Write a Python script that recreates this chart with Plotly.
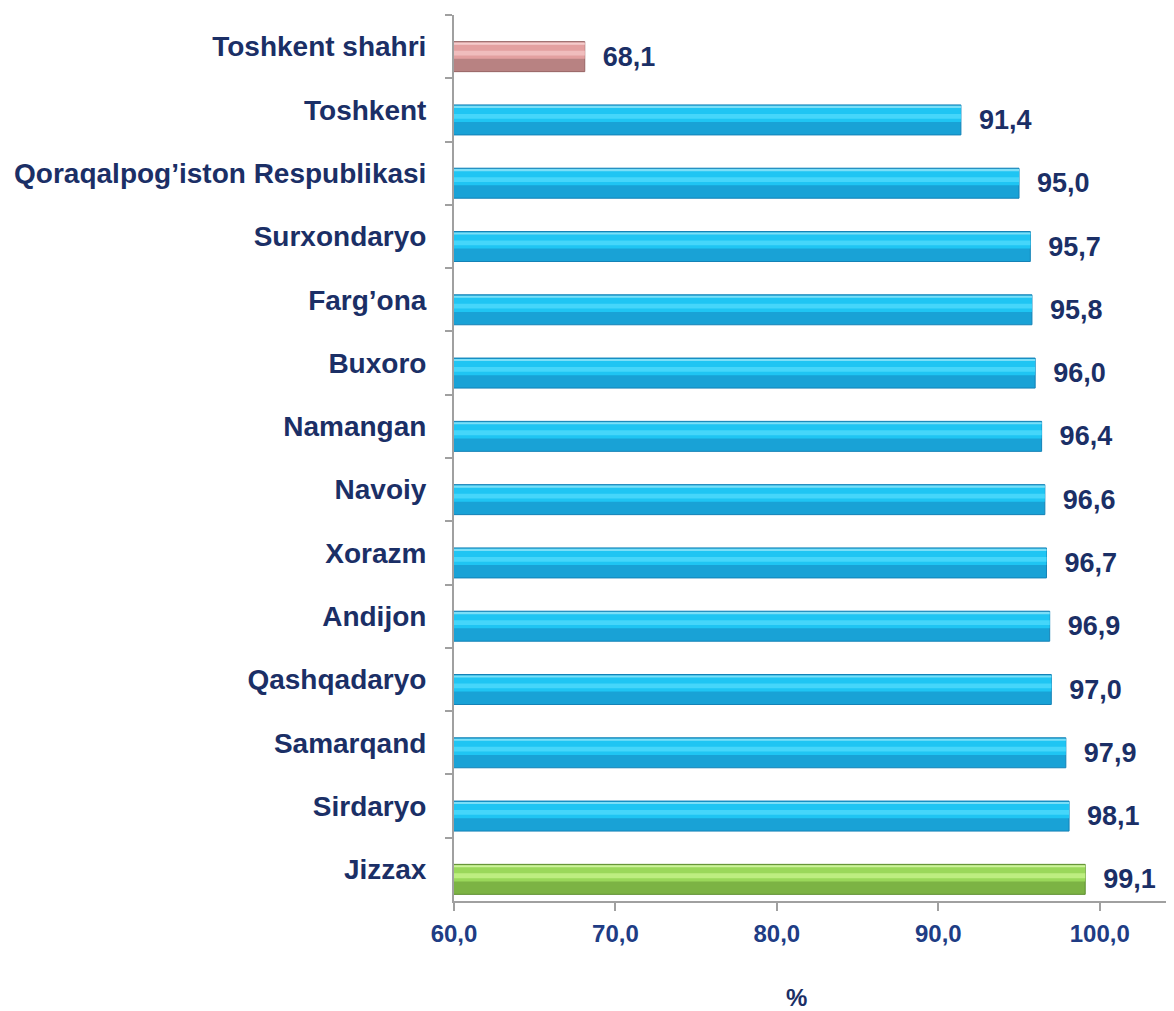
import plotly.graph_objects as go

categories = ["Toshkent shahri", "Toshkent", "Qoraqalpog’iston Respublikasi", "Surxondaryo",
              "Farg’ona", "Buxoro", "Namangan", "Navoiy", "Xorazm", "Andijon",
              "Qashqadaryo", "Samarqand", "Sirdaryo", "Jizzax"]
values = [68.1, 91.4, 95.0, 95.7, 95.8, 96.0, 96.4, 96.6, 96.7, 96.9, 97.0, 97.9, 98.1, 99.1]
x_ticks = [60, 70, 80, 90, 100]
x_title = "%"

n = len(categories)

def kind(i):
    if i == 0:
        return "pink"
    if i == n - 1:
        return "green"
    return "blue"

palette = {
    "blue":  {"edge": "#1482B6", "bottom": "#19A2D6", "mid": "#1FC5F3", "hi": "#45D6FA", "top": "#7ADFF8"},
    "pink":  {"edge": "#966464", "bottom": "#B88282", "mid": "#E3A0A0", "hi": "#F0BDBD", "top": "#F5CCCC"},
    "green": {"edge": "#5E8F30", "bottom": "#7CB344", "mid": "#9AD85A", "hi": "#BDEE80", "top": "#CDF39C"},
}

def cols(key):
    return [palette[kind(i)][key] for i in range(n)]

BW = 0.474
OFF = -0.079
FONT = "Liberation Sans, Arial, sans-serif"

fig = go.Figure()
# whole bar (lower darker shade) carrying the value label
fig.add_trace(go.Bar(
    y=categories, x=values, orientation="h",
    width=BW, offset=OFF,
    marker=dict(color=cols("bottom"), line=dict(color=cols("edge"), width=1)),
    texttemplate="\u00a0\u00a0%{x:.1f}", textposition="outside", cliponaxis=False,
    constraintext="none",
    textfont=dict(family=FONT, size=27, color="#1B2F66", weight="bold"),
    hoverinfo="skip", showlegend=False,
))
# bright upper part
fig.add_trace(go.Bar(
    y=categories, x=values, orientation="h",
    width=BW * 0.53, offset=OFF + BW * 0.04,
    marker=dict(color=cols("mid"), line=dict(width=0)),
    hoverinfo="skip", showlegend=False,
))
# light top edge
fig.add_trace(go.Bar(
    y=categories, x=values, orientation="h",
    width=BW * 0.07, offset=OFF + BW * 0.03,
    marker=dict(color=cols("top"), line=dict(width=0)),
    hoverinfo="skip", showlegend=False,
))
# highlight band
fig.add_trace(go.Bar(
    y=categories, x=values, orientation="h",
    width=BW * 0.16, offset=OFF + BW * 0.30,
    marker=dict(color=cols("hi"), line=dict(width=0)),
    hoverinfo="skip", showlegend=False,
))

# page body adds an 8px margin; figure is sized so the plot lands where the reference has it
fig.update_layout(
    width=1166, height=1003,
    barmode="overlay",
    paper_bgcolor="white", plot_bgcolor="white",
    margin=dict(l=446, r=0, t=7, b=110),
    separators=", ",
    font=dict(family=FONT, color="#1B2F66"),
)
fig.update_xaxes(
    range=[60, 104.6], tickvals=x_ticks, tickformat=".1f",
    showgrid=False, zeroline=False, automargin=False,
    showline=True, linecolor="#A0A0A0", linewidth=2,
    ticks="outside", ticklen=8, tickcolor="#A0A0A0", tickwidth=2,
    ticklabelstandoff=2,
    tickfont=dict(size=24, color="#203C84", weight="bold"),
)
fig.update_yaxes(
    autorange="reversed", categoryorder="array", categoryarray=categories,
    showgrid=False, zeroline=False, automargin=False,
    showline=True, linecolor="#A0A0A0", linewidth=2,
    ticks="outside", ticklen=7, tickcolor="#A0A0A0", tickwidth=2,
    tickson="boundaries", ticklabelstandoff=20,
    tickfont=dict(size=28, color="#1B2F66", weight="bold"),
)
fig.add_annotation(
    text=x_title, xref="paper", yref="paper", x=0.476, y=-0.109,
    xanchor="center", yanchor="middle", showarrow=False,
    font=dict(size=24, color="#1B2F66", weight="bold"),
)

fig.write_html("out.html")
